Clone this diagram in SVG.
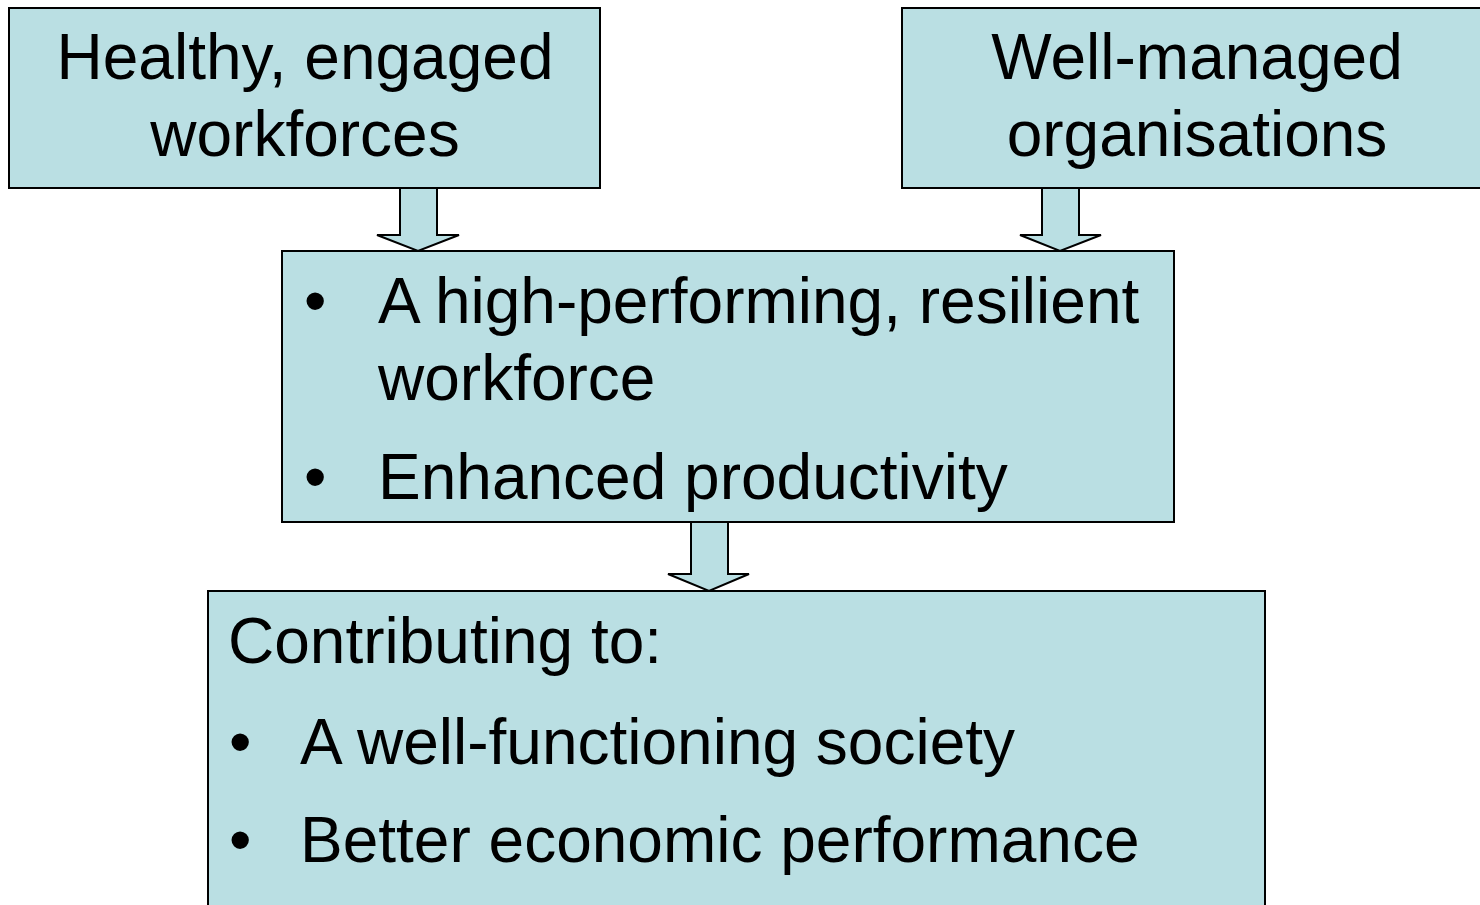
<svg xmlns="http://www.w3.org/2000/svg" width="1480" height="905" viewBox="0 0 1480 905">
  <style>
    .box { fill: #badfe3; stroke: #000; stroke-width: 2; }
    .arrow { fill: #badfe3; stroke: #000; stroke-width: 2; stroke-linejoin: miter; }
    .t { font-family: "Liberation Sans", Arial, sans-serif; font-size: 64px; fill: #000; }
    .c { text-anchor: middle; }
  </style>
  <rect width="1480" height="905" fill="#fff"/>

  <g id="connectors">
    <path class="arrow" d="M400,188 L400,235 L377,235 L418,251 L459,235 L437,235 L437,188 Z"/>
    <path class="arrow" d="M1042,188 L1042,235 L1020,235 L1060,251 L1101,235 L1079,235 L1079,188 Z"/>
    <path class="arrow" d="M691,522 L691,574 L668,574 L709,591 L749,574 L728,574 L728,522 Z"/>
  </g>

  <g id="workforces">
    <rect class="box" x="9" y="8" width="591" height="180"/>
    <text class="t c" x="305" y="79">Healthy, engaged</text>
    <text class="t c" x="305" y="156">workforces</text>
  </g>

  <g id="organisations">
    <rect class="box" x="902" y="8" width="590" height="180"/>
    <text class="t c" x="1197" y="79">Well-managed</text>
    <text class="t c" x="1197" y="156">organisations</text>
  </g>

  <g id="outcomes">
    <rect class="box" x="282" y="251" width="892" height="271"/>
    <text class="t" x="304" y="323">•</text>
    <text class="t" x="378" y="323">A high-performing, resilient</text>
    <text class="t" x="378" y="400">workforce</text>
    <text class="t" x="304" y="499">•</text>
    <text class="t" x="378" y="499">Enhanced productivity</text>
  </g>

  <g id="contribution">
    <rect class="box" x="208" y="591" width="1057" height="330"/>
    <text class="t" x="228" y="663">Contributing to:</text>
    <text class="t" x="229" y="764">•</text>
    <text class="t" x="300" y="764">A well-functioning society</text>
    <text class="t" x="229" y="862">•</text>
    <text class="t" x="300" y="862">Better economic performance</text>
  </g>
</svg>
